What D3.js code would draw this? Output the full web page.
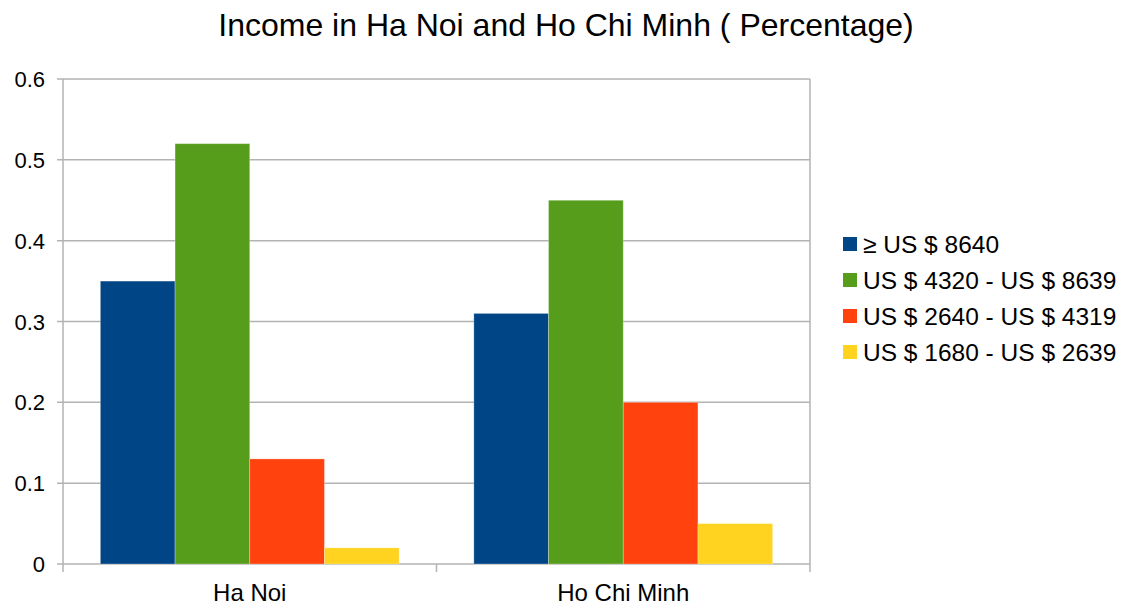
<!DOCTYPE html>
<html>
<head>
<meta charset="utf-8">
<script src="https://cdn.jsdelivr.net/npm/d3@7"></script>
<style>
  body { margin: 0; background: #fff; }
  svg text { font-family: "Liberation Sans", Arial, sans-serif; fill: #000; }
</style>
</head>
<body>
<svg id="chart" width="1133" height="608"></svg>
<script>
var cities = ["Ha Noi", "Ho Chi Minh"];
var series = ["≥ US $ 8640", "US $ 4320 - US $ 8639", "US $ 2640 - US $ 4319", "US $ 1680 - US $ 2639"];
var colors = ["#004586", "#579d1c", "#ff420e", "#ffd320"];
var haNoi = [0.35, 0.52, 0.13, 0.02];
var hoChiMinh = [0.31, 0.45, 0.20, 0.05];
var yTicks = [0, 0.1, 0.2, 0.3, 0.4, 0.5, 0.6];

var values = [haNoi, hoChiMinh];

var svg = d3.select("#chart");
var plotL = 63, plotR = 810, plotT = 79, plotB = 564;

var x = d3.scaleBand().domain(cities).range([plotL, plotR]);
var x1 = d3.scaleBand().domain(series).range([0, x.bandwidth()]).paddingOuter(0.5);
var y = d3.scaleLinear().domain([0, 0.6]).range([plotB, plotT]);

// title
svg.append("text")
  .attr("x", 566).attr("y", 36)
  .attr("text-anchor", "middle")
  .style("font-size", "32px")
  .text("Income in Ha Noi and Ho Chi Minh ( Percentage)");

// grid
svg.append("g").selectAll("line").data(yTicks).join("line")
  .attr("x1", plotL - 6).attr("x2", plotR)
  .attr("y1", d => y(d)).attr("y2", d => y(d))
  .attr("stroke", "#b3b3b3").attr("stroke-width", 1.5);

// side lines
[plotL, plotR].forEach(px => {
  svg.append("line")
    .attr("x1", px).attr("x2", px)
    .attr("y1", plotT).attr("y2", plotB + 8)
    .attr("stroke", "#b3b3b3").attr("stroke-width", 1.5);
});

// bottom category ticks
svg.append("g").selectAll("line").data(cities.slice(1)).join("line")
  .attr("x1", d => x(d)).attr("x2", d => x(d))
  .attr("y1", plotB).attr("y2", plotB + 8)
  .attr("stroke", "#b3b3b3").attr("stroke-width", 1.5);

// y labels
svg.append("g").selectAll("text").data(yTicks).join("text")
  .attr("x", 45).attr("y", d => y(d) + 8)
  .attr("text-anchor", "end")
  .style("font-size", "22px")
  .text(d => d === 0 ? "0" : d3.format(".1f")(d));

// bars
cities.forEach((c, ci) => {
  svg.append("g").attr("transform", "translate(" + x(c) + ",0)")
    .selectAll("rect").data(values[ci]).join("rect")
    .attr("x", (d, i) => x1(series[i]))
    .attr("width", x1.bandwidth())
    .attr("y", d => y(d))
    .attr("height", d => y(0) - y(d))
    .attr("fill", (d, i) => colors[i])
    .attr("stroke", "rgba(255,255,255,0.35)").attr("stroke-width", 0.8);
});

// category labels
svg.append("g").selectAll("text").data(cities).join("text")
  .attr("x", d => x(d) + x.bandwidth() / 2).attr("y", 601)
  .attr("text-anchor", "middle")
  .style("font-size", "24px")
  .text(d => d);

// legend
var leg = svg.append("g").selectAll("g").data(series).join("g")
  .attr("transform", (d, i) => "translate(843," + (244 + i * 36) + ")");
leg.append("rect").attr("x", 0).attr("y", -7).attr("width", 14).attr("height", 14)
  .attr("fill", (d, i) => colors[i]);
leg.append("text").attr("x", 20).attr("y", 9)
  .style("font-size", "24.5px")
  .text(d => d);
</script>
</body>
</html>
